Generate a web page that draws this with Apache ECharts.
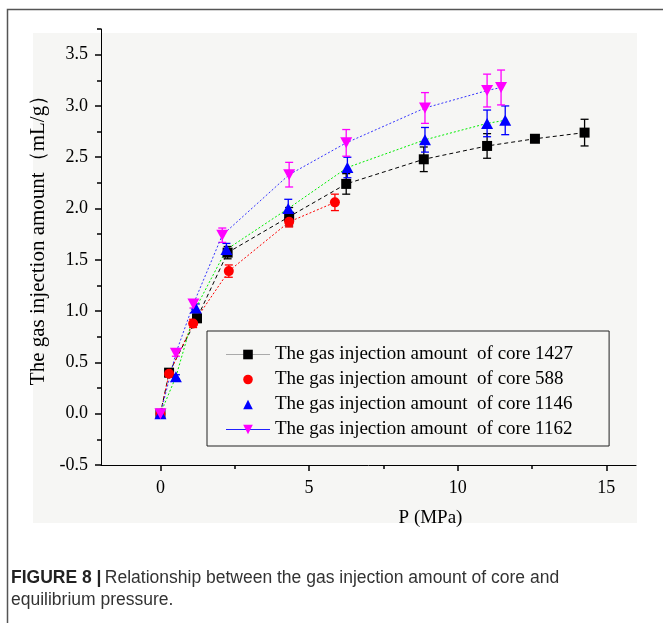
<!DOCTYPE html>
<html><head><meta charset="utf-8">
<script src="https://cdn.jsdelivr.net/npm/echarts@6/dist/echarts.min.js"></script>
<style>html,body{margin:0;padding:0;background:#fff}#c{width:663px;height:623px}</style>
</head><body><div id="c"></div>
<script>
// ---- data ----
const seriesNames = [
  'The gas injection amount  of core 1427',
  'The gas injection amount  of core 588',
  'The gas injection amount  of core 1146',
  'The gas injection amount  of core 1162'
];
const x1427 = [0, 0.29, 1.23, 2.26, 4.33, 6.25, 8.86, 10.99, 12.6, 14.27];
const y1427 = [0, 0.40, 0.93, 1.57, 1.92, 2.24, 2.48, 2.61, 2.68, 2.74];
const e1427 = [0.02, 0.03, 0.04, 0.06, 0.09, 0.10, 0.12, 0.12, 0, 0.13];

const x588 = [0, 0.29, 1.10, 2.30, 4.33, 5.87];
const y588 = [0, 0.39, 0.88, 1.39, 1.87, 2.06];
const e588 = [0.02, 0.03, 0.04, 0.06, 0.05, 0.08];

const x1146 = [0, 0.52, 1.19, 2.22, 4.30, 6.29, 8.90, 10.99, 11.6];
const y1146 = [0, 0.36, 1.03, 1.60, 2.00, 2.40, 2.67, 2.83, 2.86];
const e1146 = [0.02, 0.02, 0.04, 0.06, 0.09, 0.10, 0.12, 0.13, 0.14];

const x1162 = [0, 0.52, 1.11, 2.08, 4.33, 6.25, 8.90, 10.99, 11.46];
const y1162 = [0, 0.59, 1.07, 1.74, 2.33, 2.64, 2.98, 3.15, 3.18];
const e1162 = [0.02, 0.03, 0.04, 0.07, 0.12, 0.13, 0.15, 0.16, 0.17];

const xMajorTicks = [0, 5, 10, 15];
const xMinorTicks = [2.5, 7.5, 12.5];
const yMajorTicks = [-0.5, 0, 0.5, 1, 1.5, 2, 2.5, 3, 3.5];
const yMinorTicks = [-0.25, 0.25, 0.75, 1.25, 1.75, 2.25, 2.75, 3.25, 3.75];

// ---- helpers ----
const SERIF = '"Times New Roman","Liberation Serif","DejaVu Serif",serif';
const SANS = '"Liberation Sans",Arial,sans-serif';
function pts(xs, ys) { return xs.map((x, i) => [x, ys[i]]); }
function errs(xs, ys, es) { return xs.map((x, i) => [x, ys[i] - es[i], ys[i] + es[i]]); }
function errRender(color) {
  return function (params, api) {
    const x = api.value(0), lo = api.value(1), hi = api.value(2);
    if (hi - lo < 1e-9) return null;
    const p1 = api.coord([x, hi]), p2 = api.coord([x, lo]);
    const w = 4;
    const st = { stroke: color, lineWidth: 1.3 };
    return { type: 'group', children: [
      { type: 'line', shape: { x1: p1[0], y1: p1[1], x2: p2[0], y2: p2[1] }, style: st },
      { type: 'line', shape: { x1: p1[0] - w, y1: p1[1], x2: p1[0] + w, y2: p1[1] }, style: st },
      { type: 'line', shape: { x1: p2[0] - w, y1: p2[1], x2: p2[0] + w, y2: p2[1] }, style: st }
    ]};
  };
}
function errSeries(xs, ys, es, color) {
  return { type: 'custom', renderItem: errRender(color), data: errs(xs, ys, es),
           encode: { x: 0, y: [1, 2] }, z: 1, silent: true };
}
const colors = ['#000000', '#ff0000', '#0000ff', '#ff00ff'];

const chart = echarts.init(document.getElementById('c'), null, { renderer: 'canvas' });
chart.setOption({
  animation: false,
  backgroundColor: '#ffffff',
  graphic: [
    { type: 'rect', shape: { x: 33, y: 33, width: 604, height: 490 }, style: { fill: '#f6f6f4' }, z: -10 },
    { type: 'rect', shape: { x: 7.5, y: 9.5, width: 800, height: 800 }, style: { fill: 'none', stroke: '#555', lineWidth: 1.5 }, z: -9 },
    { type: 'text', left: 11, top: 567, style: {
        rich: { b: { fontWeight: 'bold', fontSize: 17.5, fontFamily: SANS, fill: '#222' },
                n: { fontSize: 17.5, fontFamily: SANS, fill: '#333' } },
        text: '{b|FIGURE 8 |} {n|Relationship between the gas injection amount of core and}\n{n|equilibrium pressure.}',
        lineHeight: 22 } }
  ],
  grid: { left: 101, top: 29, width: 535, height: 436, containLabel: false },
  legend: {
    orient: 'vertical', left: 207, top: 331,
    padding: [14, 36, 7, 18], itemGap: 6, itemWidth: 44, itemHeight: 12,
    borderColor: '#222', borderWidth: 1,
    textStyle: { fontFamily: SERIF, fontSize: 19, color: '#000' },
    data: [
      { name: seriesNames[0], lineStyle: { color: '#aaaaaa', type: 'solid', width: 1 } },
      { name: seriesNames[1], lineStyle: { opacity: 0 } },
      { name: seriesNames[2], lineStyle: { opacity: 0 } },
      { name: seriesNames[3], lineStyle: { color: '#2020ff', type: 'solid', width: 1.2 } }
    ]
  },
  xAxis: [{
    type: 'value', min: -2, max: 16, position: 'bottom',
    axisLine: { show: true, onZero: false, lineStyle: { color: '#000', width: 1 } },
    axisTick: { show: true, inside: false, length: 6, customValues: xMajorTicks, lineStyle: { color: '#000', width: 1.5 } },
    axisLabel: { customValues: xMajorTicks, margin: 14, fontFamily: SERIF, fontSize: 18, color: '#000' },
    splitLine: { show: false },
    name: 'P (MPa)', nameLocation: 'middle', nameGap: 44,
    nameTextStyle: { fontFamily: SERIF, fontSize: 19, color: '#000', padding: [0, 0, 0, 124] }
  }, {
    type: 'value', min: -2, max: 16, position: 'bottom',
    axisLine: { show: false, onZero: false },
    axisTick: { show: true, inside: false, length: 4, customValues: xMinorTicks, lineStyle: { color: '#000', width: 1.5 } },
    axisLabel: { show: false }, splitLine: { show: false }
  }],
  yAxis: [{
    type: 'value', min: -0.5, max: 3.75, position: 'left',
    axisLine: { show: true, onZero: false, lineStyle: { color: '#000', width: 1 } },
    axisTick: { show: true, inside: false, length: 6, customValues: yMajorTicks, lineStyle: { color: '#000', width: 1.5 } },
    axisLabel: { customValues: yMajorTicks, margin: 13, fontFamily: SERIF, fontSize: 18, color: '#000',
                 formatter: v => v.toFixed(1) },
    splitLine: { show: false },
    name: 'The gas injection amount（mL/g）', nameLocation: 'middle', nameGap: 48,
    nameTextStyle: { fontFamily: SERIF, fontSize: 21, color: '#000', padding: [0, 0, 0, 24] }
  }, {
    type: 'value', min: -0.5, max: 3.75, position: 'left',
    axisLine: { show: false, onZero: false },
    axisTick: { show: true, inside: false, length: 4, customValues: yMinorTicks, lineStyle: { color: '#000', width: 1.5 } },
    axisLabel: { show: false }, splitLine: { show: false }
  }],
  series: [
    errSeries(x1427, y1427, e1427, colors[0]),
    errSeries(x588, y588, e588, colors[1]),
    errSeries(x1146, y1146, e1146, colors[2]),
    errSeries(x1162, y1162, e1162, colors[3]),
    { name: seriesNames[0], type: 'line', data: pts(x1427, y1427), symbol: 'rect', symbolSize: 10,
      itemStyle: { color: colors[0] }, lineStyle: { color: '#000', width: 1, type: [4, 3] }, z: 3 },
    { name: seriesNames[1], type: 'line', data: pts(x588, y588), symbol: 'circle', symbolSize: 10,
      itemStyle: { color: colors[1] }, lineStyle: { color: '#ff0000', width: 1, type: [2, 2] }, z: 3 },
    { name: seriesNames[2], type: 'line', data: pts(x1146, y1146), symbol: 'triangle', symbolSize: [12, 11],
      itemStyle: { color: colors[2] }, lineStyle: { color: '#00ee00', width: 1, type: [2, 2] }, z: 3 },
    { name: seriesNames[3], type: 'line', data: pts(x1162, y1162), symbol: 'triangle', symbolSize: [12, 11], symbolRotate: 180,
      itemStyle: { color: colors[3] }, lineStyle: { color: '#3333ff', width: 1, type: [2, 2] }, z: 3 }
  ]
});
</script></body></html>
